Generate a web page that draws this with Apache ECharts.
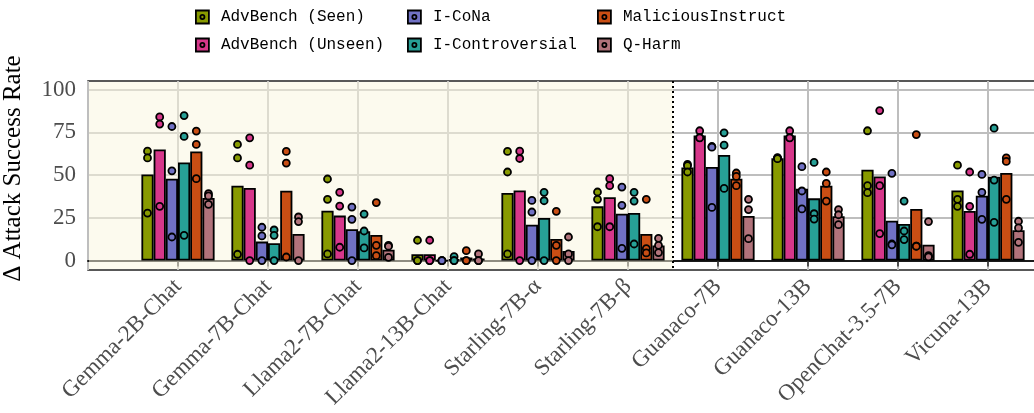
<!DOCTYPE html>
<html><head><meta charset="utf-8">
<script src="https://cdn.jsdelivr.net/npm/echarts@6/dist/echarts.min.js"></script>
<style>html,body{margin:0;padding:0;background:#fff}#c{width:1034px;height:413px}</style>
</head><body><div id="c"></div>
<script>
const categories = ['Gemma-2B-Chat','Gemma-7B-Chat','Llama2-7B-Chat','Llama2-13B-Chat','Starling-7B-α','Starling-7B-β','Guanaco-7B','Guanaco-13B','OpenChat-3.5-7B','Vicuna-13B'];
const seriesNames = ['AdvBench (Seen)','AdvBench (Unseen)','I-CoNa','I-Controversial','MaliciousInstruct','Q-Harm'];
const yTicks = [0, 25, 50, 75, 100];

// bar heights (mean Δ ASR)
const advSeen        = [50.4, 43.8, 29.2, 3.7, 39.5, 31.7, 54.5, 59.9, 53.1, 41.0];
const advUnseen      = [65.0, 42.4, 26.3, 3.7, 41.0, 37.0, 73.2, 73.2, 49.2, 29.0];
const iCoNa          = [47.9, 11.1, 18.3, 0.0, 21.0, 27.4, 54.7, 42.0, 23.3, 37.9];
const iControversial = [57.4, 10.1, 17.1, 0.8, 24.9, 27.8, 61.7, 36.4, 21.4, 49.0];
const malicious      = [63.8, 40.9, 15.0, 1.8, 12.6, 15.6, 47.9, 43.8, 30.2, 51.2];
const qHarm          = [36.6, 15.6, 6.4, 1.2, 5.6, 8.8, 26.1, 25.9, 9.3, 17.7];

// individual runs (dots)
const advSeenPts        = [[64,60,27.8],[67.9,60,3.7],[47.7,35.8,3.9],[11.9,0,0],[63.8,51.8,3.9],[40.1,35.8,19.8],[56.2,55.5,51.8],[60.2,59.9,59.6],[75.9,43.8,39.7],[55.8,35.8,31.7]];
const advUnseenPts      = [[84,79.8,31.7],[71.8,55.8,0],[39.9,31.9,7.8],[11.9,0,0],[64,59.7,0],[47.9,43.8,19.8],[75.9,71.9,71.8],[75.9,71.9,71.8],[87.7,43.8,15.8],[51.8,31.7,3.7]];
const iCoNaPts          = [[78.4,52.5,13.8],[19.5,14.4,0],[31.3,24.1,0],[0,0,0],[35.2,28.4,0],[43,32.3,7.2],[66.7,66.3,31.1],[54.9,40.7,30.2],[51,9.7,9.2],[50.4,39.9,24.1]];
const iControversialPts = [[84.8,72.6,14.8],[17.9,14.8,0],[27.2,17.3,7.4],[2.3,0,0],[39.9,35,0],[39.9,34.8,9.7],[74.7,67.5,42.2],[57.4,27.4,24.3],[34.8,17.3,12.3],[77.4,47.1,22.4]];
const maliciousPts      = [[75.7,67.9,47.9],[63.8,57,2.1],[33.9,8.9,2.9],[5.8,0,0],[28.8,8.9,0],[35.8,7,4.5],[51.2,49.2,43.8],[51.8,45.1,34.8],[73.7,8.5,8.4],[60,58,35.8]];
const qHarmPts          = [[39.1,37.8,32.9],[25.5,22.8,0],[8.9,8.4,1.9],[3.9,0,0],[13.8,3.9,0],[13,8.9,4.7],[35.8,29.8,12.8],[29.8,26.8,21],[22.8,2.9,2.2],[23,19.1,10.7]];

const colors = ['#889a00','#d6378a','#7071c4','#27a096','#c94e14','#b1737b'];
const barVals = [advSeen, advUnseen, iCoNa, iControversial, malicious, qHarm];
const ptVals = [advSeenPts, advUnseenPts, iCoNaPts, iControversialPts, maliciousPts, qHarmPts];
const axisCats = [''].concat(categories, [' ']);

const BW = 12.2;
const series = [];
seriesNames.forEach((n, s) => {
  series.push({
    type: 'bar', name: n,
    data: categories.map((c, i) => [c, barVals[s][i]]),
    barWidth: BW, barGap: '0%',
    itemStyle: { color: colors[s], borderColor: '#000', borderWidth: 1.8 },
    z: 2, animation: false, silent: true
  });
});
seriesNames.forEach((n, s) => {
  const d = [];
  categories.forEach((c, i) => ptVals[s][i].forEach(v => d.push([c, v])));
  series.push({
    type: 'scatter', name: n + ' runs', data: d,
    symbol: 'circle', symbolSize: 7, symbolOffset: [(s - 2.5) * BW, 0],
    itemStyle: { color: colors[s], borderColor: '#000', borderWidth: 1.8, opacity: 1 },
    z: 5, animation: false, silent: true
  });
});

const legendLeft = [195, 407, 597];
const legendIconPath = 'path://M0,0H12V12H0Z M6,4.1A1.9,1.9,0,1,1,6,7.9A1.9,1.9,0,1,1,6,4.1Z';
const legends = [0, 1, 2].map(k => ({
  data: [seriesNames[2 * k], seriesNames[2 * k + 1]],
  orient: 'vertical', left: legendLeft[k], top: 9, padding: 0,
  itemWidth: 13, itemHeight: 13, itemGap: 12,
  icon: legendIconPath, selectedMode: false,
  itemStyle: { borderColor: '#000', borderWidth: 1.8 },
  textStyle: { fontFamily: 'Liberation Mono', fontSize: 16, color: '#000', padding: [0, 0, 0, 7] }
}));

const chart = echarts.init(document.getElementById('c'), null, { renderer: 'canvas' });
chart.setOption({
  animation: false,
  backgroundColor: '#fff',
  legend: legends,
  grid: { left: 88, top: 81, width: 990, height: 189, outerBoundsMode: 'none', containLabel: false,
          show: true, borderColor: '#222', borderWidth: 1.5, backgroundColor: 'transparent' },
  xAxis: {
    type: 'category', data: axisCats, boundaryGap: false,
    axisLine: { lineStyle: { color: '#1a1a1a', width: 2 } },
    axisTick: { interval: (i, v) => v.trim() !== '', length: 6, lineStyle: { color: '#333', width: 1.6 } },
    axisLabel: { interval: 0, rotate: 45, fontFamily: 'Liberation Serif', fontSize: 23, color: '#4d4d4d', margin: 13 },
    splitLine: { show: true, interval: 0, lineStyle: { color: '#bebebe', width: 2 } }
  },
  yAxis: {
    type: 'value', min: -5.5, max: 105,
    axisLine: { show: false },
    axisTick: { show: false, customValues: yTicks },
    axisLabel: { customValues: yTicks, fontFamily: 'Liberation Serif', fontSize: 23, color: '#4d4d4d', margin: 12 },
    splitLine: { show: true, lineStyle: { color: '#bebebe', width: 2 } },
    name: 'Δ Attack Success Rate', nameLocation: 'middle', nameGap: 62,
    nameTextStyle: { fontFamily: 'Liberation Serif', fontSize: 25, color: '#000', padding: [0, 0, 0, 14] }
  },
  series: series
});

const xa = chart.convertToPixel({ xAxisIndex: 0 }, 6);
const xb = chart.convertToPixel({ xAxisIndex: 0 }, 7);
const sep = (xa + xb) / 2;
const yTop = chart.convertToPixel({ yAxisIndex: 0 }, 105);
const yBot = chart.convertToPixel({ yAxisIndex: 0 }, -5.5);
const gLeft = chart.convertToPixel({ xAxisIndex: 0 }, 0);
chart.setOption({ graphic: [
  { type: 'rect', silent: true, z: 1, shape: { x: gLeft + 1, y: yTop + 1, width: sep - gLeft - 1, height: yBot - yTop - 2 }, style: { fill: 'rgba(249,245,223,0.52)' } },
  { type: 'line', silent: true, z: 6, shape: { x1: sep, y1: yTop, x2: sep, y2: yBot }, style: { stroke: '#000', lineWidth: 2, lineDash: [2, 3] } }
] });
</script>
</body></html>
